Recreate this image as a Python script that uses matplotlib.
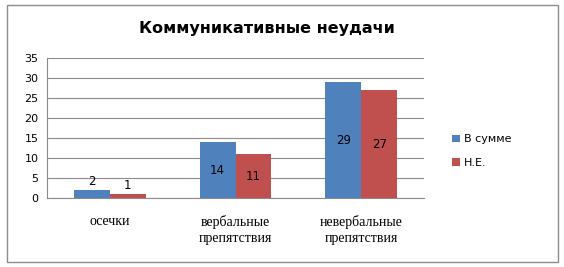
import matplotlib.pyplot as plt
import numpy as np
from matplotlib.patches import Rectangle

categories = ["осечки", "вербальные\nпрепятствия", "невербальные\nпрепятствия"]
series_names = ["В сумме", "Н.Е."]
v_total = [2, 14, 29]
v_ne = [1, 11, 27]
yticks = [0, 5, 10, 15, 20, 25, 30, 35]

blue = "#4F81BD"
red = "#C0504D"

fig = plt.figure(figsize=(5.64, 2.67), dpi=100)
ax = fig.add_axes([47/564, 1-198/267, (424-47)/564, 140/267])

# outer frame of the chart
fig.patches.append(Rectangle((7/564, 5/267), 551/564, 257/267, transform=fig.transFigure,
                             fill=False, edgecolor="#8c8c8c", linewidth=1))

x = np.arange(len(categories))
w = 0.286
b1 = ax.bar(x - w/2, v_total, w, color=blue, label=series_names[0], zorder=3)
b2 = ax.bar(x + w/2, v_ne, w, color=red, label=series_names[1], zorder=3)

for bars in (b1, b2):
    for r in bars:
        h = r.get_height()
        cx = r.get_x() + r.get_width()/2
        if h < 5:
            ax.text(cx, h + 0.4, str(int(h)), ha="center", va="bottom", fontsize=8.5)
        else:
            ax.text(cx, h/2, str(int(h)), ha="center", va="center", fontsize=8.5)

ax.set_xlim(-0.5, 2.5)
ax.set_ylim(0, 35)
ax.set_yticks(yticks)
ax.yaxis.grid(True, color="#8c8c8c", linewidth=0.8, zorder=0)
ax.tick_params(axis="both", length=0, labelsize=8)
ax.tick_params(axis="y", pad=6)
ax.tick_params(axis="x", pad=12)
ax.set_xticks(x)
ax.set_xticklabels(categories, family="Liberation Serif", fontsize=10, linespacing=1.35)
for s in ["top", "right"]:
    ax.spines[s].set_visible(False)
ax.spines["left"].set_color("#8c8c8c")
ax.spines["bottom"].set_color("#8c8c8c")

fig.text(267/564, 1-28/267, "Коммуникативные неудачи", ha="center", va="center",
         fontsize=11.5, fontweight="bold")

fig.legend(handles=[b1, b2], labels=series_names, loc="center left",
           bbox_to_anchor=(442/564, 1-151/267), frameon=False, fontsize=8,
           handlelength=0.7, handleheight=0.7, handletextpad=0.4, labelspacing=1.2)

fig.savefig("out.png", dpi=100)
